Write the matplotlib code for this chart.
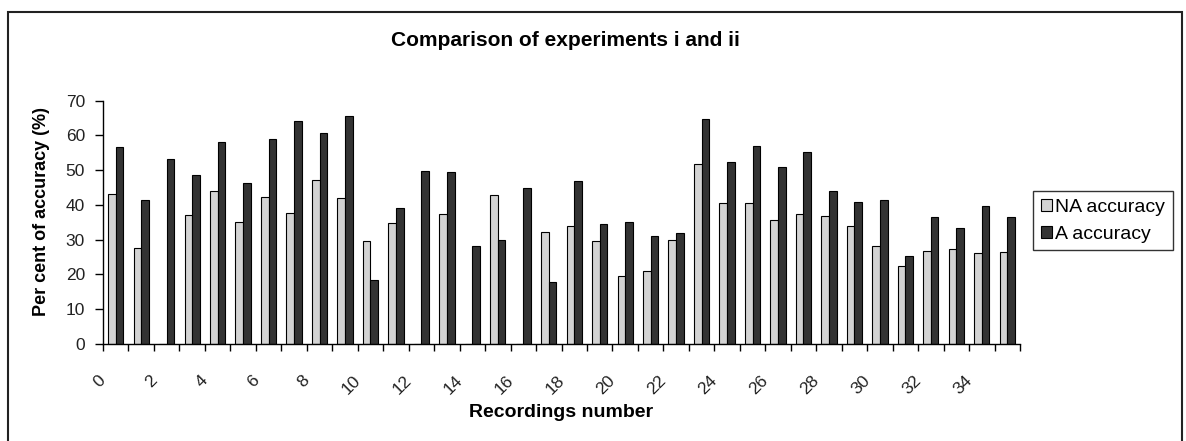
import numpy as np
import matplotlib.pyplot as plt
import matplotlib.transforms as mtransforms
from matplotlib.patches import Rectangle

plt.rcParams['font.family'] = ['Liberation Sans', 'DejaVu Sans']

# Recording indices and the two accuracy series (per cent)
recordings = np.arange(36)
na_accuracy = [43.1, 27.5, 0, 37.1, 44.1, 35.0, 42.4, 37.6, 47.2, 41.9,
               29.7, 34.9, 0, 37.4, 0, 43.0, 0, 32.3, 34.0, 29.5,
               19.6, 21.0, 29.9, 51.8, 40.5, 40.5, 35.7, 37.4, 36.9, 33.9,
               28.3, 22.5, 26.9, 27.3, 26.1, 26.6]
a_accuracy = [56.7, 41.5, 53.2, 48.5, 58.0, 46.3, 59.0, 64.1, 60.7, 65.5,
              18.4, 39.1, 49.7, 49.4, 28.3, 30.0, 44.8, 17.7, 47.0, 34.5,
              35.0, 31.1, 31.9, 64.8, 52.3, 57.1, 50.9, 55.3, 43.9, 40.9,
              41.3, 25.4, 36.5, 33.3, 39.8, 36.5]
tick_labels = [str(i) for i in range(0, 35, 2)]

W, H = 1186, 441
fig = plt.figure(figsize=(W / 100, H / 100), dpi=100)
ax = fig.add_axes([103 / W, (H - 344) / H, (1020 - 103) / W, (344 - 100.7) / H])

bw = 0.30
ax.bar(recordings - bw / 2, na_accuracy, width=bw, color='#d3d3d3',
       edgecolor='black', linewidth=0.8, label='NA accuracy')
ax.bar(recordings + bw / 2, a_accuracy, width=bw, color='#333333',
       edgecolor='black', linewidth=0.8, label='A accuracy')

ax.set_xlim(-0.5, 35.5)
ax.set_ylim(0, 70)
ax.set_yticks(np.arange(0, 71, 10))
ax.tick_params(axis='y', direction='out', length=6, width=1, pad=7,
               labelsize=12.5, labelcolor='#222222')

# category boundaries get the tick marks, labels sit under every other category
ax.set_xticks(np.arange(-0.5, 36, 1), minor=True)
ax.set_xticks(np.arange(0, 35, 2))
ax.set_xticklabels(tick_labels, rotation=45, ha='right', va='top')
ax.tick_params(axis='x', which='major', length=0, pad=21, labelsize=12.5,
               labelcolor='#222222')
ax.tick_params(axis='x', which='minor', direction='out', length=5, width=1)
shift = mtransforms.ScaledTranslation(-0.07, 0, fig.dpi_scale_trans)
for lbl in ax.get_xticklabels():
    lbl.set_transform(lbl.get_transform() + shift)

for side in ('top', 'right'):
    ax.spines[side].set_visible(False)
for side in ('left', 'bottom'):
    ax.spines[side].set_linewidth(1)

ax.set_xlabel('Recordings number', fontsize=14, fontweight='bold')
ax.xaxis.set_label_coords(0.5, -0.245)
ax.set_ylabel('Per cent of accuracy (%)', fontsize=13, fontweight='bold')
ax.yaxis.set_label_coords(-0.058, 0.545)

fig.text(565 / W, (H - 46) / H, 'Comparison of experiments i and ii',
         ha='center', va='baseline', fontsize=15, fontweight='bold')

leg = fig.legend(loc='upper left', bbox_to_anchor=(1033 / W, (H - 191) / H),
                 frameon=True, fancybox=False, edgecolor='black',
                 fontsize=14, handlelength=0.6, handleheight=0.6,
                 handletextpad=0.15, borderpad=0.4, labelspacing=0.5,
                 borderaxespad=0)
leg.get_frame().set_linewidth(1)

# chart frame around everything
fig.patches.append(Rectangle((8 / W, -0.05), (1182 - 8) / W, (H - 12) / H + 0.05,
                             transform=fig.transFigure, fill=False,
                             edgecolor='#222222', linewidth=1.5))

fig.savefig('out.png', dpi=100)
